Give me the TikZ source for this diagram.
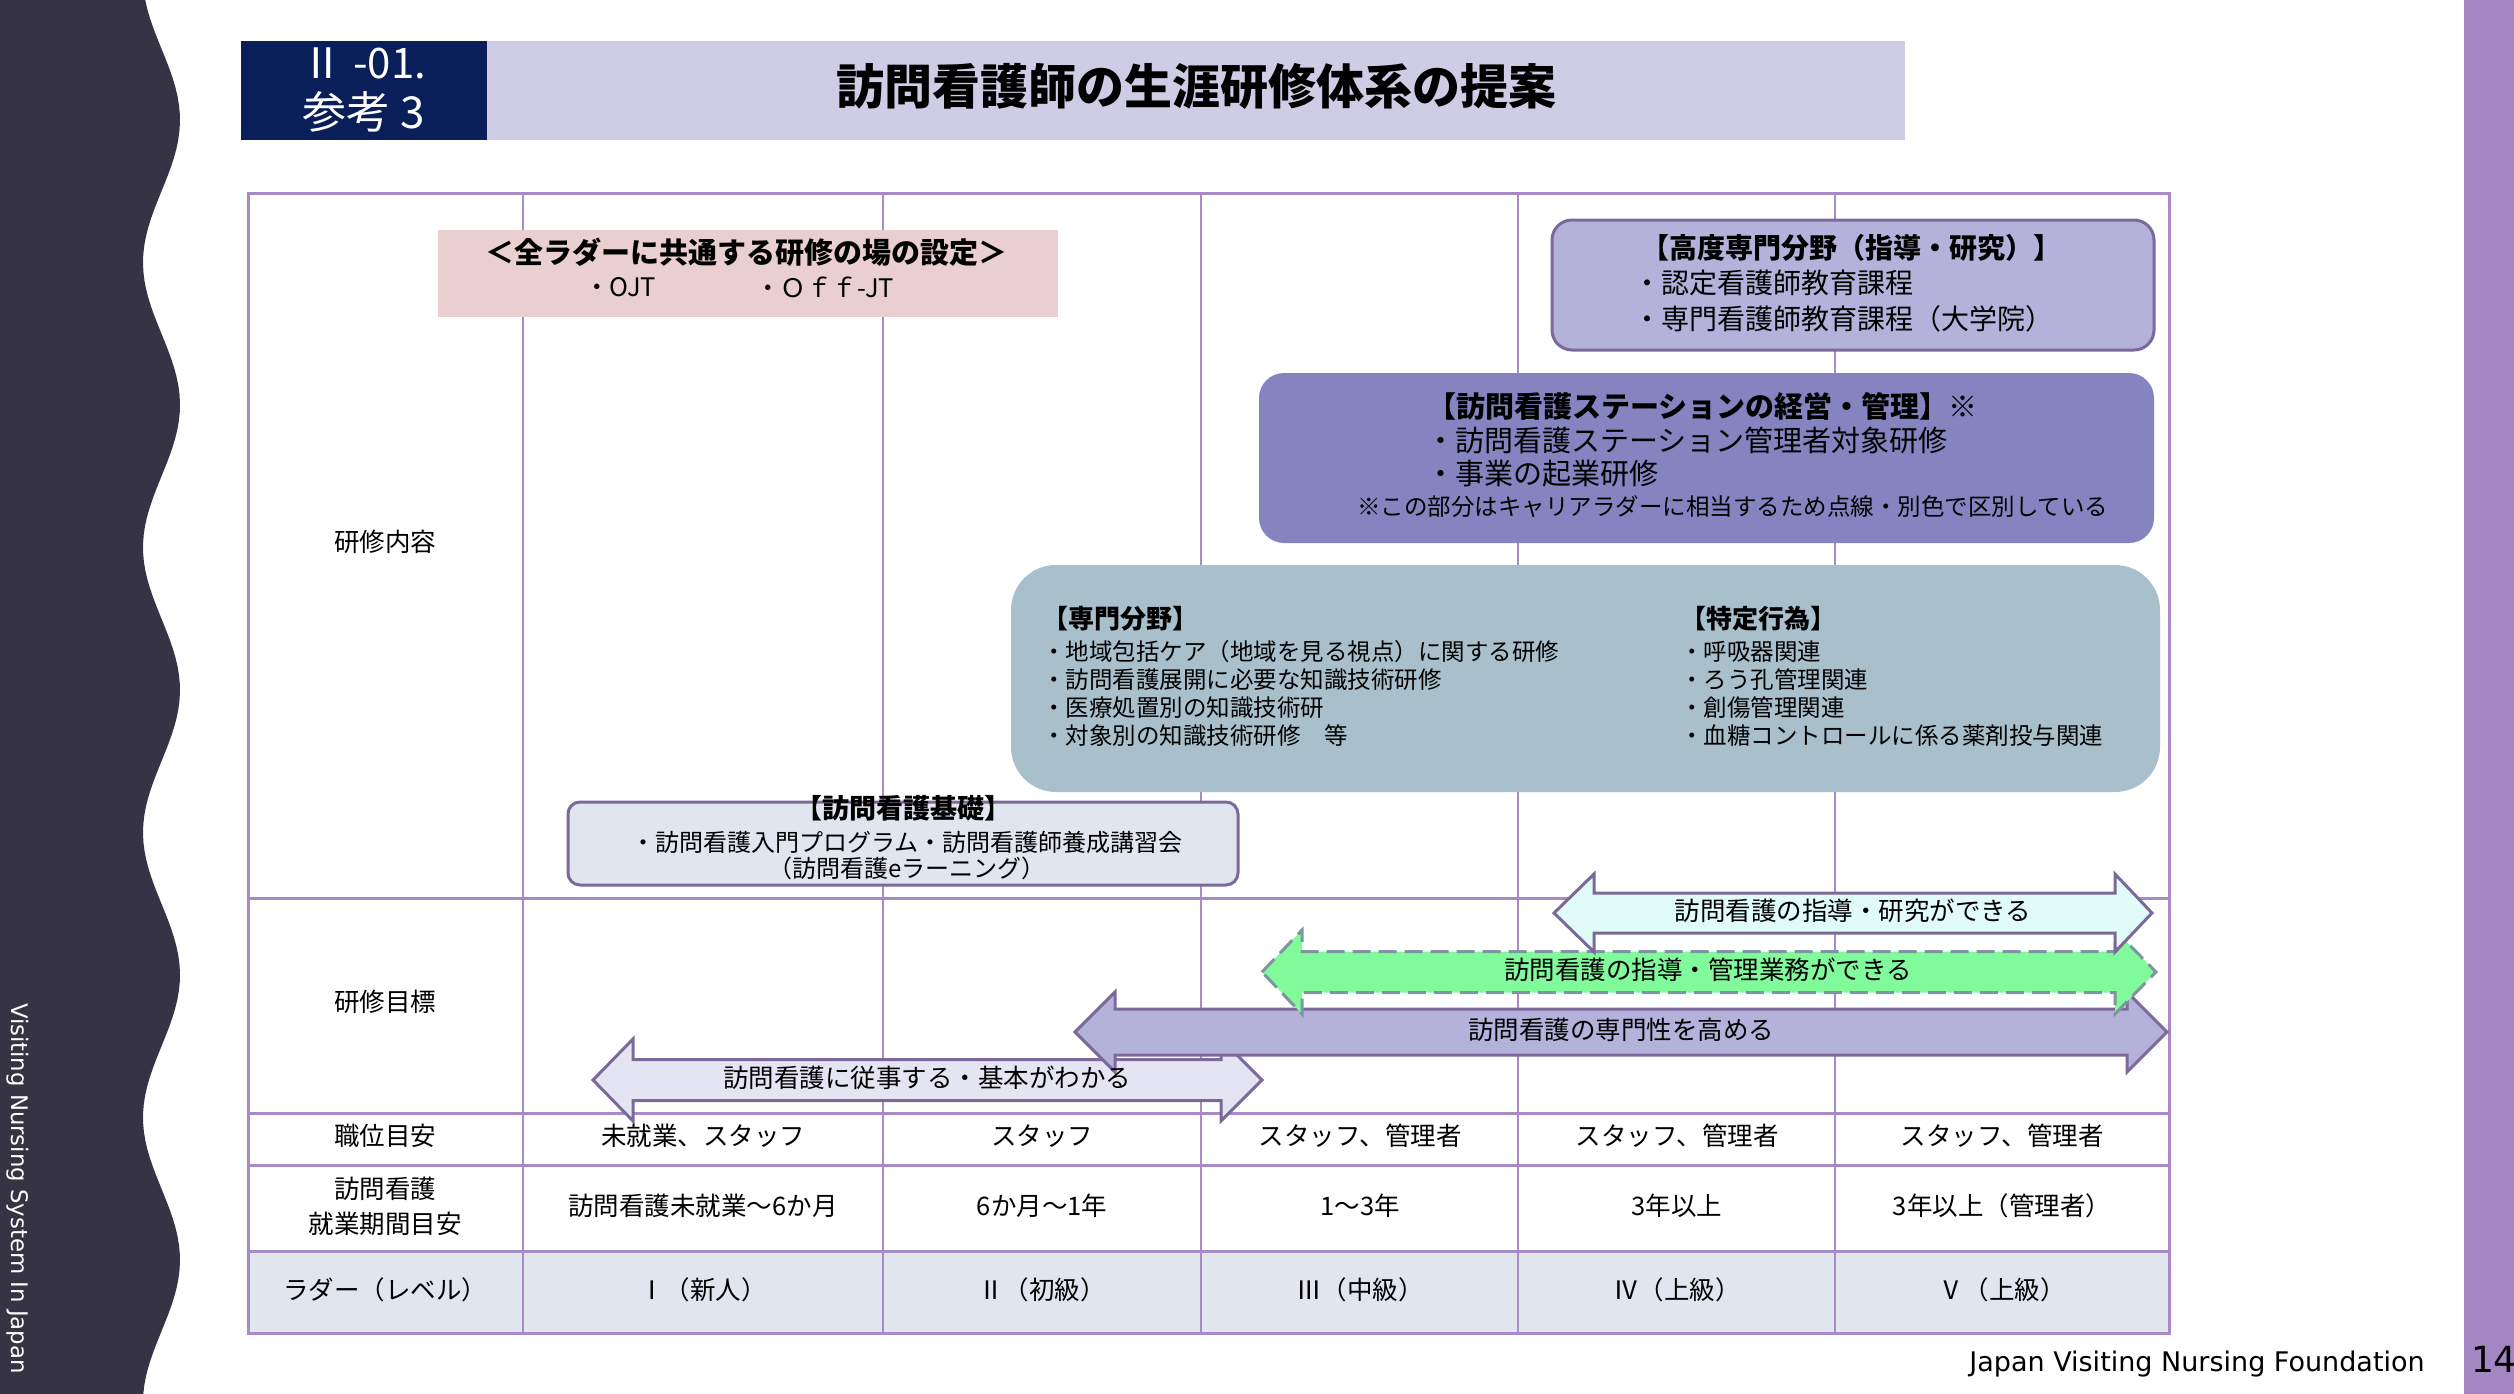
\documentclass[tikz,border=0pt]{standalone}
\usepackage{fontspec}
\usepackage{graphicx}
\setmainfont{Noto Sans CJK JP}
\newfontfamily\latinf{DejaVu Sans}
\newcommand{\fsz}[1]{\fontsize{#1}{#1}\selectfont}
\newcommand{\dblarrowpath}[7]{({#1},{#5}) -- ({#2},{#5-#6}) -- ({#2},{#5-#7}) -- ({#3},{#5-#7}) -- ({#3},{#5-#6}) -- ({#4},{#5}) -- ({#3},{#5+#6}) -- ({#3},{#5+#7}) -- ({#2},{#5+#7}) -- ({#2},{#5+#6}) -- cycle}
\definecolor{wavec}{RGB}{54,52,68}
\definecolor{navyc}{RGB}{10,30,90}
\definecolor{hdrlav}{RGB}{207,205,230}
\definecolor{gridc}{RGB}{168,138,200}
\definecolor{pinkc}{RGB}{234,207,208}
\definecolor{lavc}{RGB}{180,178,218}
\definecolor{edgec}{RGB}{123,106,153}
\definecolor{midpur}{RGB}{134,131,193}
\definecolor{grayblue}{RGB}{169,191,204}
\definecolor{lightc}{RGB}{225,230,238}
\definecolor{cyanc}{RGB}{224,251,248}
\definecolor{greenc}{RGB}{128,250,155}
\definecolor{dashc}{RGB}{126,150,160}
\definecolor{dlav}{RGB}{229,228,242}
\definecolor{barc}{RGB}{164,135,194}
\tikzset{
  txt/.style={inner sep=0pt, outer sep=0pt},
  t23/.style={txt, font=\fsz{23.5}},
  t24/.style={txt, font=\fsz{24}},
  t25/.style={txt, font=\fsz{25.5}},
  t28/.style={txt, font=\fsz{28}},
  t29/.style={txt, font=\fsz{29}},
  b26/.style={txt, font=\bfseries\fsz{26}},
  b27/.style={txt, font=\bfseries\fsz{27}},
  b28/.style={txt, font=\bfseries\fsz{28}},
  b29/.style={txt, font=\bfseries\fsz{29}},
  panel/.style={rectangle, inner sep=0pt, outer sep=0pt},
  colline/.style={draw=gridc, line width=2pt},
  rowline/.style={draw=gridc, line width=3pt},
  goal/.style={draw=edgec, line width=3pt, line join=miter},
}
\begin{document}
\begin{tikzpicture}[x=1pt,y=-1pt]
\useasboundingbox (0,0) rectangle (2514,1394);
% left wave band
\fill[wavec] (0,0) -- plot[domain=0:1394, samples=160, variable=\yy] ({161.5+18.5*cos((\yy-120)*1.263158)},\yy) -- (0,1394) -- cycle;
\node[txt, rotate=-90, anchor=base west, text=white, font=\latinf\fsz{22.8}] (side) at (12,1003) {Visiting Nursing System In Japan};
% right bar
\fill[barc] (2464,0) rectangle (2514,1394);
\node[txt, anchor=base west, font=\latinf\fsz{36}] (pg) at (2471,1372) {14};
% header
\node[panel, fill=navyc, minimum width=246pt, minimum height=99pt, anchor=north west] (secbox) at (241,41) {};
\node[panel, fill=hdrlav, minimum width=1418pt, minimum height=99pt, anchor=north west] (titlebox) at (487,41) {};
\node[txt, text=white, font=\fsz{42}] (sec1) at (364,63) {Ⅱ -01.};
\node[txt, text=white, font=\fsz{44}] (sec2) at (364,112) {参考 3};
\node[txt, font=\bfseries\fsz{48}] (title) at (1196,86) {訪問看護師の生涯研修体系の提案};
% table
\fill[lightc] (248,1251) rectangle (2169,1333);
\foreach \xx in {523,883,1201,1518,1835} \draw[colline] (\xx,193) -- (\xx,1333);
\foreach \yy in {898,1113,1165,1251} \draw[rowline] (248,\yy) -- (2169,\yy);
\draw[rowline] (248,193) rectangle (2169,1333);
% boxes
\node[panel, fill=pinkc, minimum width=620pt, minimum height=87pt] (common) at (748,273.5) {};
\node[b29] (commonT) at (746,252) {＜全ラダーに共通する研修の場の設定＞};
\node[t25, anchor=west] (ojt) at (584,287) {・OJT};
\node[t25, anchor=west] (offjt) at (755,287) {・Ｏｆｆ-JT};

\node[panel, fill=lavc, draw=edgec, line width=3pt, rounded corners=20pt, minimum width=602pt, minimum height=130pt] (kodo) at (1853,285) {};
\node[b28, anchor=west] (kodo1) at (1641,248) {【高度専門分野（指導・研究）】};
\node[t28, anchor=west] (kodo2) at (1633,283) {・認定看護師教育課程};
\node[t28, anchor=west] (kodo3) at (1633,319) {・専門看護師教育課程（大学院）};

\node[panel, fill=midpur, rounded corners=25pt, minimum width=895pt, minimum height=170pt] (keiei) at (1706.5,458) {};
\node[t29, anchor=west] (keiei1) at (1427,406) {{\bfseries 【訪問看護ステーションの経営・管理】}※};
\node[t29, anchor=west] (keiei2) at (1426,440) {・訪問看護ステーション管理者対象研修};
\node[t29, anchor=west] (keiei3) at (1426,474) {・事業の起業研修};
\node[t23, anchor=west] (keiei4) at (1357,507) {※この部分はキャリアラダーに相当するため点線・別色で区別している};

\node[panel, fill=grayblue, rounded corners=45pt, minimum width=1149pt, minimum height=227pt] (senmon) at (1585.5,678.5) {};
\node[b26, anchor=west] (sm0) at (1042,619) {【専門分野】};
\node[t23, anchor=west] (sm1) at (1042,652) {・地域包括ケア（地域を見る視点）に関する研修};
\node[t23, anchor=west] (sm2) at (1042,680) {・訪問看護展開に必要な知識技術研修};
\node[t23, anchor=west] (sm3) at (1042,708) {・医療処置別の知識技術研};
\node[t23, anchor=west] (sm4) at (1042,736) {・対象別の知識技術研修　等};
\node[b26, anchor=west] (tk0) at (1680,619) {【特定行為】};
\node[t23, anchor=west] (tk1) at (1680,652) {・呼吸器関連};
\node[t23, anchor=west] (tk2) at (1680,680) {・ろう孔管理関連};
\node[t23, anchor=west] (tk3) at (1680,708) {・創傷管理関連};
\node[t23, anchor=west] (tk4) at (1680,736) {・血糖コントロールに係る薬剤投与関連};

\node[panel, fill=lightc, draw=edgec, line width=3pt, rounded corners=12pt, minimum width=670pt, minimum height=83pt] (kiso) at (903,843.5) {};
\node[b27] (kiso1) at (903,808) {【訪問看護基礎】};
\node[t24] (kiso2) at (907,842) {・訪問看護入門プログラム・訪問看護師養成講習会};
\node[t24] (kiso3) at (907,868) {（訪問看護eラーニング）};

% goal arrows
\filldraw[goal, fill=dlav] \dblarrowpath{593}{633}{1221}{1262}{1080}{41}{20.5};
\filldraw[goal, fill=lavc] \dblarrowpath{1075}{1115}{2127}{2167}{1032}{40}{23};
\filldraw[goal, fill=greenc, draw=dashc, dash pattern=on 18pt off 8pt] \dblarrowpath{1262}{1302}{2115}{2156}{972}{42}{20.5};
\filldraw[goal, fill=cyanc] \dblarrowpath{1554}{1594}{2115}{2152}{913}{39}{20};
\node[t25] (goalD) at (927,1078) {訪問看護に従事する・基本がわかる};
\node[t25] (goalC) at (1621,1030) {訪問看護の専門性を高める};
\node[t25] (goalB) at (1708,970) {訪問看護の指導・管理業務ができる};
\node[t25] (goalA) at (1853,911) {訪問看護の指導・研究ができる};

% row labels
\node[t25] (lab1) at (385,542) {研修内容};
\node[t25] (lab2) at (385,1002) {研修目標};
\node[t25] (lab3) at (385,1136) {職位目安};
\node[txt, align=center, font=\fontsize{25.5}{35}\selectfont] (lab4) at (385,1206) {訪問看護\\就業期間目安};
\node[t25] (lab5) at (385,1290) {ラダー（レベル）};
% values
\node[t25] (p1) at (703,1136) {未就業、スタッフ};
\node[t25] (p2) at (1042,1136) {スタッフ};
\node[t25] (p3) at (1360,1136) {スタッフ、管理者};
\node[t25] (p4) at (1677,1136) {スタッフ、管理者};
\node[t25] (p5) at (2002,1136) {スタッフ、管理者};
\node[t25] (y1) at (703,1206) {訪問看護未就業～6か月};
\node[t25] (y2) at (1042,1206) {6か月～1年};
\node[t25] (y3) at (1360,1206) {1～3年};
\node[t25] (y4) at (1677,1206) {3年以上};
\node[t25] (y5) at (2002,1206) {3年以上（管理者）};
\node[t25] (l1) at (703,1290) {Ⅰ（新人）};
\node[t25] (l2) at (1042,1290) {Ⅱ（初級）};
\node[t25] (l3) at (1360,1290) {Ⅲ（中級）};
\node[t25] (l4) at (1677,1290) {Ⅳ（上級）};
\node[t25] (l5) at (2002,1290) {Ⅴ（上級）};
% footer
\node[txt, anchor=base, font=\latinf\fsz{27}] (foot) at (2197,1371) {Japan Visiting Nursing Foundation};
\end{tikzpicture}
\end{document}
